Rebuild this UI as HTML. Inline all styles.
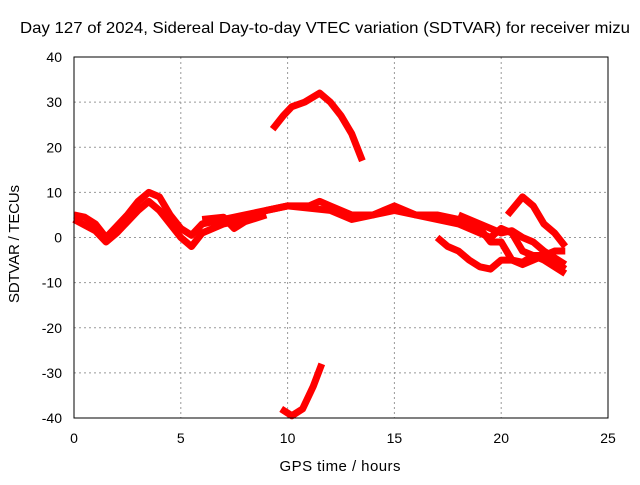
<!DOCTYPE html>
<html><head><meta charset="utf-8"><style>
body{margin:0;background:#fff}
svg text{font-family:"Liberation Sans",sans-serif;font-size:14px;fill:#000}
</style></head><body>
<svg width="640" height="480">
<g id="grid"></g>
<g id="series"></g>
<rect x="74" y="57" width="534" height="361" fill="none" stroke="#000"/>
<g id="ticks"></g>
<text x="20" y="33" textLength="610" lengthAdjust="spacingAndGlyphs" style="font-size:16px">Day 127 of 2024, Sidereal Day-to-day VTEC variation (SDTVAR) for receiver mizu</text>
<text x="340" y="471" text-anchor="middle" textLength="121" style="font-size:15px">GPS time / hours</text>
<text transform="translate(19,244) rotate(-90)" text-anchor="middle" textLength="118" style="font-size:15px">SDTVAR / TECUs</text>
</svg>
<script>
const xTicks=[0,5,10,15,20,25];
const yTicks=[-40,-30,-20,-10,0,10,20,30,40];
const trackA=[[9.3,24],[9.8,27],[10.2,29],[10.8,30],[11.5,32],[12,30],[12.5,27],[13,23],[13.5,17]];
const trackB=[[9.7,-38],[10.2,-39.5],[10.7,-38],[11.2,-33],[11.6,-28]];
const trackC=[[0,5],[0.5,4.5],[1,3],[1.5,0],[2,2.5],[2.5,5],[3,8],[3.5,10],[4,9],[4.5,5],[5,2],[5.5,0.5],[6,3],[7,4],[8,5],[9,6],[10,7],[11,7],[11.5,8],[12,7],[13,5],[14,5],[15,6],[16,5],[17,4],[18,3],[19,1],[19.5,0],[20,2],[20.5,1],[21,-3],[22,-5],[23,-8]];
const trackD=[[0,4],[1,1.5],[1.5,-1],[2,1],[3,6],[3.5,8],[4,6],[4.5,3],[5,0],[5.5,-2],[6,1],[7,3],[8,4],[9,6],[10,7],[11,6.5],[12,6],[13,4],[14,5],[15,7],[16,5],[17,5],[18,4],[19,2],[19.5,-1],[20,-1],[20.5,-5],[21,-5.5],[21.5,-4],[22,-4],[22.5,-3],[23,-3]];
const trackE=[[17,0],[17.5,-2],[18,-3],[18.5,-5],[19,-6.5],[19.5,-7],[20,-5],[20.5,-5],[21,-6],[22,-4],[23,-7]];
const trackF=[[20.3,5],[21,9],[21.5,7],[22,3],[22.5,1],[23,-2]];
const trackG=[[18,5],[19,3],[20,1],[20.5,1.5],[21,0],[21.5,-1],[22,-3],[23,-6]];
const trackH=[[6,4],[7,4.5],[7.5,2],[8,3.5],[9,5]];
const tracks=[trackA,trackB,trackC,trackD,trackE,trackF,trackG,trackH];
const NS="http://www.w3.org/2000/svg";
const X=v=>74+v/25*534, Y=v=>418-(v+40)/80*361;
const grid=document.getElementById('grid'),ticks=document.getElementById('ticks'),ser=document.getElementById('series');
xTicks.forEach(t=>{
 if(t>0&&t<25){const l=document.createElementNS(NS,'line');
 
 
 l.setAttribute('x1',X(t));l.setAttribute('x2',X(t));l.setAttribute('y1',57);l.setAttribute('y2',418);
 l.setAttribute('stroke','#999');l.setAttribute('stroke-dasharray','2,3');grid.appendChild(l);}
 const tx=document.createElementNS(NS,'text');
 
 
 tx.setAttribute('x',X(t));tx.setAttribute('y',443);tx.setAttribute('text-anchor','middle');tx.textContent=t;ticks.appendChild(tx);
});
yTicks.forEach(t=>{
 if(t>-40&&t<40){const l=document.createElementNS(NS,'line');
 
 
 l.setAttribute('x1',74);l.setAttribute('x2',608);l.setAttribute('y1',Y(t));l.setAttribute('y2',Y(t));
 l.setAttribute('stroke','#999');l.setAttribute('stroke-dasharray','2,3');grid.appendChild(l);}
 const tx=document.createElementNS(NS,'text');
 
 
 tx.setAttribute('x',62);tx.setAttribute('y',Y(t)+5);tx.setAttribute('text-anchor','end');tx.textContent=t;ticks.appendChild(tx);
});
tracks.forEach(tr=>{
 const p=document.createElementNS(NS,'polyline');
 
 
 p.setAttribute('points',tr.map(d=>X(d[0])+','+Y(d[1])).join(' '));
 p.setAttribute('fill','none');p.setAttribute('stroke','#f00');p.setAttribute('stroke-width','7');p.setAttribute('stroke-linejoin','round');
 ser.appendChild(p);
});
</script>
</body></html>
